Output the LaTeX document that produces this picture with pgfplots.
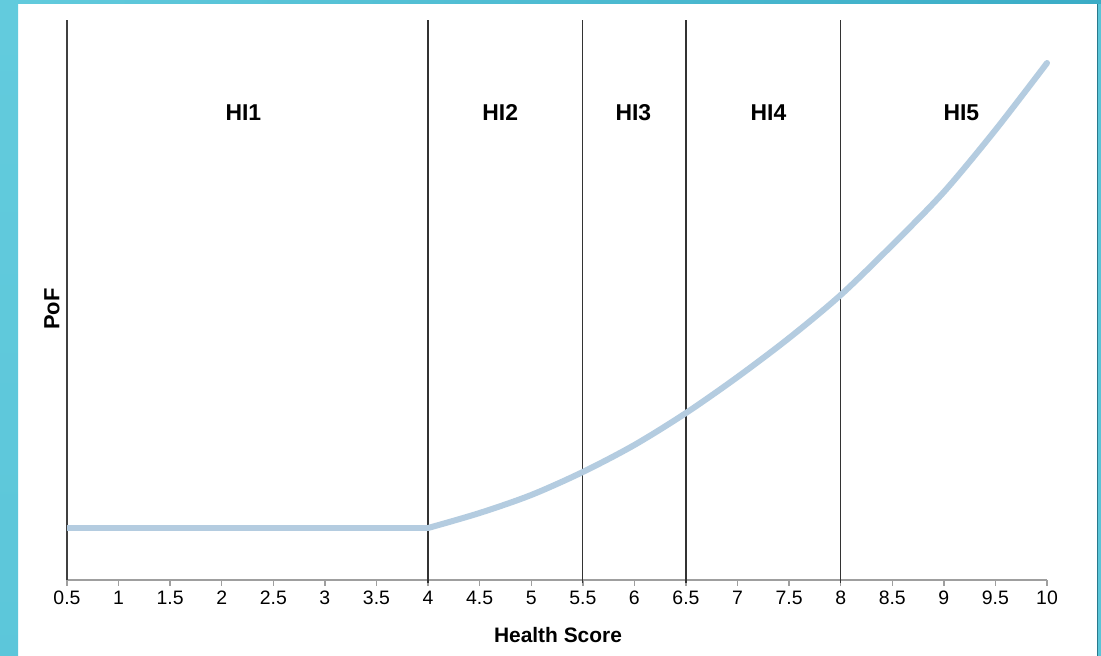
\documentclass[border=0pt]{standalone}
\usepackage{pgfplots}
\pgfplotsset{compat=1.18}
\usepackage{fontspec}
\setmainfont{Liberation Sans}

\definecolor{slide}{RGB}{98,203,221}
\definecolor{slidedark}{RGB}{58,172,198}
\definecolor{curve}{RGB}{180,204,224}

\begin{document}
\begin{tikzpicture}[x=1bp,y=1bp]
  % slide background
  \useasboundingbox (0,0) rectangle (1101,656);
  \fill[white] (0,0) rectangle (1101,656);
  \shade[top color=slide, bottom color=slide!85!slidedark] (0,0) rectangle (18,656);
  \shade[left color=slide, right color=slidedark] (0,652) rectangle (1101,656);
  \fill[slide!80!slidedark] (1098,0) rectangle (1101,652);
  \draw[slidedark!70!black, line width=0.8bp] (1097.6,0) -- (1097.6,652);

  \begin{axis}[
      scale only axis,
      width=980bp, height=560bp,
      at={(67bp,76bp)}, anchor=south west,
      xmin=0.5, xmax=10,
      ymin=0, ymax=560,
      axis x line*=bottom,
      axis y line*=left,
      x axis line style={gray!75, line width=1.6bp},
      y axis line style={black!75, line width=1.3bp},
      xtick={0.5,1,...,10},
      ytick=\empty,
      tick align=outside,
      major tick length=6bp,
      xtick style={gray!75, line width=1.4bp},
      /pgf/number format/assume math mode=true,
      typeset ticklabels with strut,
      xticklabel style={font=\fontsize{19.5}{22}\selectfont, /pgf/number format/fixed, yshift=0bp},
      xlabel={\textbf{Health Score}},
      xlabel style={font=\fontsize{21}{24}\selectfont, at={(axis description cs:0.501,-0.098)}, anchor=center},
      ylabel={\textbf{PoF}},
      ylabel style={font=\fontsize{22}{24}\selectfont, at={(axis description cs:-0.0153,0.484)}, anchor=center},
      clip=false,
    ]
    % band boundaries
    \addplot[black!80, line width=1.3bp] coordinates {(4,-3) (4,560)};
    \addplot[black!80, line width=1.3bp] coordinates {(5.5,-3) (5.5,560)};
    \addplot[black!80, line width=1.3bp] coordinates {(6.5,-3) (6.5,560)};
    \addplot[black!80, line width=1.3bp] coordinates {(8,-3) (8,560)};

    % PoF curve: flat up to 4, rising after
    \addplot[curve, line width=6bp] coordinates {(0.5,52) (4,52)};
    \addplot[curve, line width=6bp, smooth, line cap=round] coordinates {
        (4,52) (4.5,67) (5,85) (5.5,108) (6,135) (6.5,167) (7,203)
        (7.5,242) (8,285) (8.5,335) (9,388) (9.5,450) (10,517)
      };

    \node[font=\fontsize{23}{26}\selectfont\bfseries] at (axis cs:2.21,467) {HI1};
    \node[font=\fontsize{23}{26}\selectfont\bfseries] at (axis cs:4.70,467) {HI2};
    \node[font=\fontsize{23}{26}\selectfont\bfseries] at (axis cs:5.99,467) {HI3};
    \node[font=\fontsize{23}{26}\selectfont\bfseries] at (axis cs:7.30,467) {HI4};
    \node[font=\fontsize{23}{26}\selectfont\bfseries] at (axis cs:9.17,467) {HI5};
  \end{axis}
\end{tikzpicture}
\end{document}
